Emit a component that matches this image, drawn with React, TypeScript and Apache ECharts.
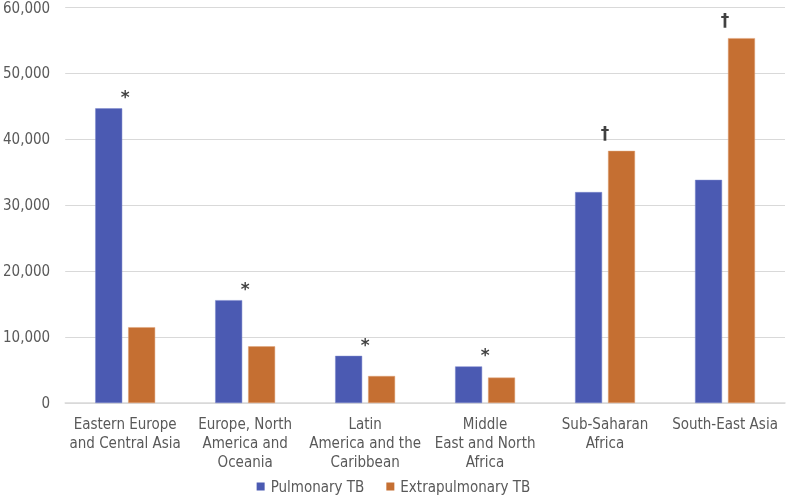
import React, { useEffect, useRef } from "react";
import * as echarts from "echarts";

const categories = [
  "Eastern Europe\nand Central Asia",
  "Europe, North\nAmerica and\nOceania",
  "Latin\nAmerica and the\nCaribbean",
  "Middle\nEast and North\nAfrica",
  "Sub-Saharan\nAfrica",
  "South-East Asia",
];
const pulmonary = [44700, 15600, 7150, 5550, 32000, 33850];
const extrapulmonary = [11500, 8600, 4100, 3850, 38250, 55350];
const annotations = ["*", "*", "*", "*", "\u2020", "\u2020"];
const yTicks = [0, 10000, 20000, 30000, 40000, 50000, 60000];

const FONT = "'DejaVu Sans Condensed', 'DejaVu Sans', sans-serif";

export default function App() {
  const ref = useRef<HTMLDivElement>(null);
  useEffect(() => {
    if (!ref.current) return;
    const chart = echarts.init(ref.current, undefined, { renderer: "svg" });
    const annotationData = pulmonary.map((p, i) => ({
      value: Math.max(p, extrapulmonary[i]),
      label: { distance: annotations[i] === "*" ? 2 : 9 },
    }));
    chart.setOption({
      animation: false,
      textStyle: { fontFamily: FONT },
      grid: { left: 62, right: 2, top: 6, bottom: 94, containLabel: false },
      legend: {
        top: 474,
        left: "center",
        itemWidth: 8,
        itemHeight: 8,
        itemGap: 22,
        icon: "rect",
        itemStyle: { borderWidth: 0 },
        data: ["Pulmonary TB", "Extrapulmonary TB"],
        textStyle: { fontFamily: FONT, fontSize: 15, color: "#595959", padding: [0, 0, 0, 1] },
      },
      xAxis: {
        type: "category",
        data: categories,
        axisTick: { show: false },
        axisLine: { lineStyle: { color: "#d9d9d9", width: 1.5 } },
        axisLabel: {
          interval: 0,
          margin: 11,
          fontFamily: FONT,
          fontSize: 15,
          lineHeight: 19,
          color: "#595959",
        },
      },
      yAxis: {
        type: "value",
        min: yTicks[0],
        max: yTicks[yTicks.length - 1],
        interval: 10000,
        axisLabel: {
          margin: 15,
          fontFamily: FONT,
          fontSize: 15,
          color: "#595959",
          formatter: (v: number) => v.toLocaleString("en-US"),
        },
        splitLine: { lineStyle: { color: "#d9d9d9", width: 1 } },
        axisLine: { show: false },
        axisTick: { show: false },
      },
      series: [
        {
          name: "Pulmonary TB",
          type: "bar",
          data: pulmonary,
          barWidth: 27,
          barGap: "22%",
          itemStyle: { color: "#4b5ab2", borderColor: "#7b86cc", borderWidth: 0.5 },
        },
        {
          name: "Extrapulmonary TB",
          type: "bar",
          data: extrapulmonary,
          barWidth: 27,
          barGap: "22%",
          itemStyle: { color: "#c56f32", borderColor: "#e0a57a", borderWidth: 0.5 },
        },
        {
          name: "annotations",
          type: "scatter",
          data: annotationData,
          symbolSize: 1,
          itemStyle: { color: "rgba(0,0,0,0)" },
          silent: true,
          label: {
            show: true,
            position: "top",
            distance: 3,
            color: "#111",
            fontSize: 17,
            fontWeight: "bold",
            fontFamily: "'DejaVu Sans', sans-serif",
            formatter: (p: any) => annotations[p.dataIndex],
          },
        },
      ],
    });
    return () => chart.dispose();
  }, []);
  return (
    <div
      ref={ref}
      style={{ position: "fixed", left: 0, top: 0, width: 787, height: 497 }}
    />
  );
}
